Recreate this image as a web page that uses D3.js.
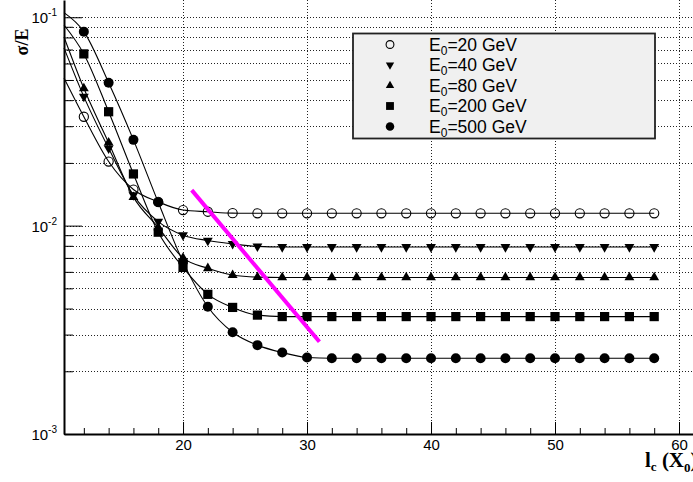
<!DOCTYPE html>
<html>
<head>
<meta charset="utf-8">
<script src="https://cdnjs.cloudflare.com/ajax/libs/d3/7.8.5/d3.min.js"></script>
<style>
  body { margin: 0; background: #fff; }
  text { font-family: "Liberation Sans", Arial, sans-serif; }
  .grid line { stroke: #222; stroke-width: 1; stroke-dasharray: 1,2; }
  .fit { fill: none; stroke: #000; stroke-width: 1.1; }
  .title { font-family: "Liberation Serif", "Times New Roman", serif; font-weight: bold; }
</style>
</head>
<body>
<div class="diagram"></div>
<script>
// shower length (X0) for every measured point
const lengths = [12, 14, 16, 18, 20, 22, 24, 26, 28, 30, 32, 34, 36, 38, 40, 42, 44, 46, 48, 50, 52, 54, 56, 58];

// sigma/E for each beam energy
const e20  = [0.0333, 0.0203, 0.0149, 0.0130, 0.01188, 0.01166, 0.01148, 0.01146, 0.01146, 0.01146, 0.01146, 0.01146, 0.01146, 0.01146, 0.01146, 0.01146, 0.01146, 0.01146, 0.01146, 0.01146, 0.01146, 0.01146, 0.01146, 0.01146];
const e40  = [0.0416, 0.0235, 0.0140, 0.01045, 0.0090, 0.00848, 0.00817, 0.00795, 0.0079, 0.0079, 0.0079, 0.0079, 0.0079, 0.0079, 0.0079, 0.0079, 0.0079, 0.0079, 0.0079, 0.0079, 0.0079, 0.0079, 0.0079, 0.0079];
const e80  = [0.0456, 0.0250, 0.0137, 0.0098, 0.0070, 0.00624, 0.00579, 0.00566, 0.00564, 0.00564, 0.00564, 0.00564, 0.00564, 0.00564, 0.00564, 0.00564, 0.00564, 0.00564, 0.00564, 0.00564, 0.00564, 0.00564, 0.00564, 0.00564];
const e200 = [0.0667, 0.0352, 0.0177, 0.0093, 0.0063, 0.00468, 0.00405, 0.00372, 0.00366, 0.00366, 0.00366, 0.00366, 0.00366, 0.00366, 0.00366, 0.00366, 0.00366, 0.00366, 0.00366, 0.00366, 0.00366, 0.00366, 0.00366, 0.00366];
const e500 = [0.0853, 0.0485, 0.0258, 0.01294, 0.0067, 0.00408, 0.00308, 0.00267, 0.00246, 0.00233, 0.00231, 0.00231, 0.00231, 0.00231, 0.00231, 0.00231, 0.00231, 0.00231, 0.00231, 0.00231, 0.00231, 0.00231, 0.00231, 0.00231];

// where each fitted curve leaves the left axis
const fitStartX = 10.4;
const fitStart = [0.0511, 0.0713, 0.0804, 0.0918, 0.1052];

const energies = ["20", "40", "80", "200", "500"];
const markers  = ["openCircle", "downTriangle", "upTriangle", "square", "circle"];

// magenta guide line end points
const guideX = [20.7, 31.0];
const guideY = [0.0148, 0.00277];

const xMajor = [20, 30, 40, 50, 60];
const xMinor = [12, 14, 16, 18, 22, 24, 26, 28, 32, 34, 36, 38, 42, 44, 46, 48, 52, 54, 56, 58];
const yMajor = [1e-3, 1e-2, 1e-1];
const yMajorExp = ["-3", "-2", "-1"];

const series = [e20, e40, e80, e200, e500];

const width = 693, height = 482;

const x = d3.scaleLinear().domain([10.4, 61.5]).range([64, 697.6]);
const y = d3.scaleLog().domain([1e-3, 0.121]).range([434, 0]);

const svg = d3.select(".diagram").append("svg")
    .attr("width", width)
    .attr("height", height);

// dotted grid
const grid = svg.append("g").attr("class", "grid");
grid.selectAll(".h")
    .data(y.ticks().filter(d => d > 1.0001e-3))
  .enter().append("line")
    .attr("x1", 64).attr("x2", width)
    .attr("y1", d => Math.round(y(d)) + 0.5)
    .attr("y2", d => Math.round(y(d)) + 0.5);
grid.selectAll(".v")
    .data(xMajor)
  .enter().append("line")
    .attr("y1", 0).attr("y2", 434)
    .attr("x1", d => Math.round(x(d)) + 0.5)
    .attr("x2", d => Math.round(x(d)) + 0.5);

// x axis, ticks pointing inward
const xAxisG = svg.append("g").attr("transform", "translate(0,434)");
xAxisG.append("g")
    .call(d3.axisBottom(x).tickValues(xMinor).tickSizeInner(-6).tickSizeOuter(0).tickFormat(""))
    .call(g => g.select(".domain").attr("stroke-width", 2));
xAxisG.append("g")
    .call(d3.axisBottom(x).tickValues(xMajor).tickSizeInner(-12).tickSizeOuter(0).tickPadding(5))
    .call(g => g.select(".domain").remove())
    .call(g => g.selectAll("text").attr("font-size", 15).style("font-family", "Liberation Sans"));

// y axis, ticks pointing inward
const yAxisG = svg.append("g").attr("transform", "translate(64,0)");
yAxisG.append("g")
    .call(d3.axisLeft(y).tickValues(y.ticks().filter(d => !yMajor.includes(d))).tickSizeInner(-9).tickSizeOuter(0).tickFormat(""))
    .call(g => g.select(".domain").attr("stroke-width", 2));
yAxisG.append("g")
    .call(d3.axisLeft(y).tickValues(yMajor).tickSizeInner(-18).tickSizeOuter(0).tickFormat(""))
    .call(g => g.select(".domain").remove());

// y tick labels as 10^n
const yLab = svg.append("g").selectAll("text")
    .data(yMajor)
  .enter().append("text")
    .attr("x", 57)
    .attr("y", d => y(d) + 6)
    .attr("text-anchor", "end")
    .attr("font-size", 15);
yLab.append("tspan").text("10");
yLab.append("tspan")
    .attr("dy", -7)
    .attr("font-size", 10)
    .text((d, i) => yMajorExp[i]);

// axis titles
const xTitle = svg.append("text")
    .attr("class", "title")
    .attr("x", 645).attr("y", 467)
    .attr("font-size", 21);
xTitle.append("tspan").text("l");
xTitle.append("tspan").attr("dy", 4).attr("font-size", 13).text("c");
xTitle.append("tspan").attr("dy", -4).text(" (X");
xTitle.append("tspan").attr("dy", 5).attr("font-size", 13).text("0");
xTitle.append("tspan").attr("dy", -5).text(")");

svg.append("text")
    .attr("class", "title")
    .attr("transform", "translate(28,42) rotate(-90)")
    .attr("text-anchor", "middle")
    .attr("font-size", 18)
    .text("σ/E");

// fitted curves
const line = d3.line()
    .x(d => x(d[0]))
    .y(d => y(d[1]))
    .curve(d3.curveMonotoneX);

const plot = svg.append("g");
series.forEach((s, i) => {
  const pts = [[fitStartX, fitStart[i]]].concat(lengths.map((l, j) => [l, s[j]]));
  plot.append("path").attr("class", "fit").attr("d", line(pts));
});

// marker shapes
function drawMarker(sel, kind, scale) {
  const k = scale || 1;
  if (kind === "openCircle") {
    sel.append("circle").attr("r", 4.6 * k).attr("fill", "none").attr("stroke", "#000").attr("stroke-width", 1.1);
  } else if (kind === "circle") {
    sel.append("circle").attr("r", 5 * k).attr("fill", "#000");
  } else if (kind === "square") {
    sel.append("path").attr("d", d3.symbol(d3.symbolSquare, 85 * k * k)()).attr("fill", "#000");
  } else if (kind === "upTriangle") {
    sel.append("path").attr("d", d3.symbol(d3.symbolTriangle, 42 * k * k)()).attr("fill", "#000");
  } else {
    sel.append("path").attr("d", d3.symbol(d3.symbolTriangle, 42 * k * k)())
      .attr("transform", "rotate(180)").attr("fill", "#000");
  }
}

series.forEach((s, i) => {
  const node = plot.selectAll(".m" + i)
      .data(lengths.map((l, j) => [l, s[j]]))
    .enter().append("g")
      .attr("class", "m" + i)
      .attr("transform", d => "translate(" + x(d[0]) + "," + y(d[1]) + ")");
  drawMarker(node, markers[i]);
});

// magenta guide
svg.append("line")
    .attr("x1", x(guideX[0])).attr("y1", y(guideY[0]))
    .attr("x2", x(guideX[1])).attr("y2", y(guideY[1]))
    .attr("stroke", "#f0f")
    .attr("stroke-width", 4);

// legend
const legend = svg.append("g");
legend.append("rect")
    .attr("x", 353).attr("y", 33.5)
    .attr("width", 302).attr("height", 105)
    .attr("fill", "#f0f0f0")
    .attr("stroke", "#222")
    .attr("stroke-width", 1.8);

const row = legend.selectAll(".row")
    .data(energies)
  .enter().append("g")
    .attr("transform", (d, i) => "translate(0," + (44.5 + i * 20.5) + ")");
row.each(function(d, i) {
  const g = d3.select(this).append("g").attr("transform", "translate(390,0)");
  drawMarker(g, markers[i], 0.85);
});
const lt = row.append("text")
    .attr("x", 429).attr("y", 6)
    .attr("font-size", 17.5);
lt.append("tspan").text("E");
lt.append("tspan").attr("dy", 4).attr("font-size", 12).text("0");
lt.append("tspan").attr("dy", -4).text(d => "=" + d + " GeV");
</script>
</body>
</html>
